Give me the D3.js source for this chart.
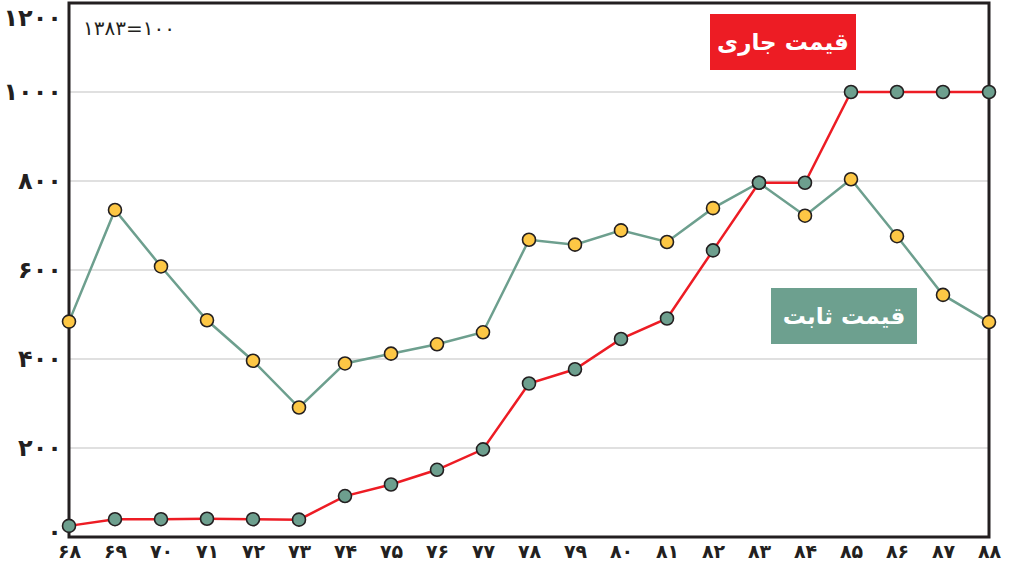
<!DOCTYPE html>
<html>
<head>
<meta charset="utf-8">
<script src="https://cdn.jsdelivr.net/npm/d3@7"></script>
<style>
  body { margin: 0; background: #fff; }
  text { font-family: "DejaVu Sans", sans-serif; }
</style>
</head>
<body>
<script>
// years (1368..1388), shown as two digits
var years = [68, 69, 70, 71, 72, 73, 74, 75, 76, 77, 78, 79, 80, 81, 82, 83, 84, 85, 86, 87, 88];
var yearLabels = ["۶۸", "۶۹", "۷۰", "۷۱", "۷۲", "۷۳", "۷۴", "۷۵", "۷۶", "۷۷", "۷۸",
                  "۷۹", "۸۰", "۸۱", "۸۲", "۸۳", "۸۴", "۸۵", "۸۶", "۸۷", "۸۸"];

// current price index (red line)
var currentPrice = [25, 40, 40, 41, 40, 39, 92, 118, 151, 197, 345, 377, 445, 491, 644, 796, 796, 1000, 1000, 1000, 1000];
// constant price index (green line)
var constantPrice = [484, 735, 608, 487, 396, 291, 390, 412, 433, 460, 668, 657, 689, 663, 739, 796, 722, 804, 676, 544, 483];

var yTicks = [0, 200, 400, 600, 800, 1000, 1200];
var yTickLabels = ["۰", "۲۰۰", "۴۰۰", "۶۰۰", "۸۰۰", "۱۰۰۰", "۱۲۰۰"];

var baseNote = "۱۳۸۳=۱۰۰";
var currentLabel = "قیمت جاری";
var constantLabel = "قیمت ثابت";

var width = 1010,
    height = 572;

// plot frame
var plotLeft = 69, plotRight = 989, plotTop = 3, plotBottom = 537;

var svg = d3.select("body")
    .append("svg")
    .attr("width", width)
    .attr("height", height);

var x = d3.scaleLinear()
    .domain([68, 88])
    .range([plotLeft, plotRight]);

var y = d3.scaleLinear()
    .domain([0, 1200])
    .range([plotBottom, plotTop]);

// gridlines
svg.append("g")
    .selectAll("line")
    .data([200, 400, 600, 800, 1000])
    .enter()
    .append("line")
    .attr("x1", plotLeft)
    .attr("x2", plotRight)
    .attr("y1", function(d){ return y(d); })
    .attr("y2", function(d){ return y(d); })
    .attr("stroke", "#d6d6d6")
    .attr("stroke-width", 1.5);

// frame
svg.append("rect")
    .attr("x", plotLeft)
    .attr("y", plotTop)
    .attr("width", plotRight - plotLeft)
    .attr("height", plotBottom - plotTop)
    .attr("fill", "none")
    .attr("stroke", "#231f20")
    .attr("stroke-width", 3);

// y axis labels
var yAxis = d3.axisLeft(y)
    .tickValues(yTicks)
    .tickSize(0)
    .tickPadding(7)
    .tickFormat(function(d, i){ return yTickLabels[i]; });

var gy = svg.append("g")
    .attr("transform", "translate(" + plotLeft + ",0)")
    .call(yAxis);
gy.select(".domain").remove();
gy.selectAll("text")
    .attr("font-size", 24)
    .attr("font-weight", "bold")
    .attr("fill", "#231f20")
    .style("font-family", "'DejaVu Sans', sans-serif")
    .attr("dy", function(d){ return d == 1200 ? "0.95em" : (d == 0 ? "0.1em" : "0.32em"); });

// x axis labels
var xAxis = d3.axisBottom(x)
    .tickValues(years)
    .tickSize(0)
    .tickPadding(8)
    .tickFormat(function(d, i){ return yearLabels[i]; });

var gx = svg.append("g")
    .attr("transform", "translate(0," + plotBottom + ")")
    .call(xAxis);
gx.select(".domain").remove();
gx.selectAll("text")
    .attr("font-size", 19)
    .attr("font-weight", "bold")
    .attr("fill", "#231f20")
    .style("font-family", "'DejaVu Sans', sans-serif");

// lines
var line = d3.line()
    .x(function(d, i){ return x(years[i]); })
    .y(function(d){ return y(d); });

svg.append("path")
    .datum(constantPrice)
    .attr("d", line)
    .attr("fill", "none")
    .attr("stroke", "#6d9f8e")
    .attr("stroke-width", 2.5);

svg.append("g")
    .selectAll("circle")
    .data(constantPrice)
    .enter()
    .append("circle")
    .attr("cx", function(d, i){ return x(years[i]); })
    .attr("cy", function(d){ return y(d); })
    .attr("r", 6.5)
    .attr("fill", "#fdc745")
    .attr("stroke", "#231f20")
    .attr("stroke-width", 1.6);

svg.append("path")
    .datum(currentPrice)
    .attr("d", line)
    .attr("fill", "none")
    .attr("stroke", "#ed1c24")
    .attr("stroke-width", 2.5);

svg.append("g")
    .selectAll("circle")
    .data(currentPrice)
    .enter()
    .append("circle")
    .attr("cx", function(d, i){ return x(years[i]); })
    .attr("cy", function(d){ return y(d); })
    .attr("r", 6.5)
    .attr("fill", "#6d9f8e")
    .attr("stroke", "#231f20")
    .attr("stroke-width", 1.6);

// base year note
svg.append("text")
    .attr("x", 83)
    .attr("y", 35)
    .attr("font-size", 20)
    .attr("fill", "#231f20")
    .text(baseNote);

// legend boxes
function legendBox(bx, by, color, label){
    svg.append("rect")
        .attr("x", bx)
        .attr("y", by)
        .attr("width", 146)
        .attr("height", 56)
        .attr("fill", color);
    svg.append("text")
        .attr("x", bx + 73)
        .attr("y", by + 28)
        .attr("dy", "0.35em")
        .attr("text-anchor", "middle")
        .attr("direction", "rtl")
        .attr("font-size", 23)
        .attr("font-weight", "bold")
        .attr("fill", "#fff")
        .text(label);
}

legendBox(710, 14, "#ed1c24", currentLabel);
legendBox(771, 288, "#6da08f", constantLabel);
</script>
</body>
</html>
